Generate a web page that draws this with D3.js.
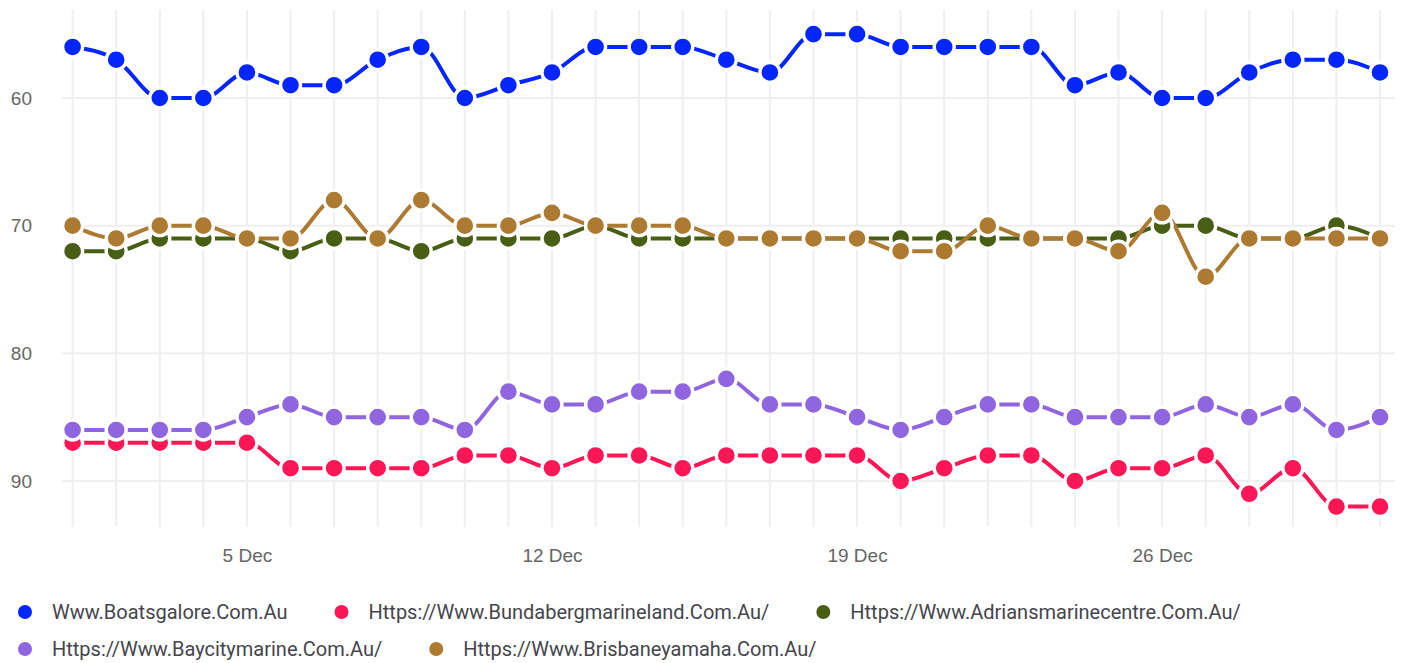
<!DOCTYPE html>
<html>
<head>
<meta charset="utf-8">
<script src="https://cdn.jsdelivr.net/npm/d3@7"></script>
<style>
  body { margin: 0; background: #fff; }
  svg { display: block; font-family: Roboto, "Open Sans", sans-serif; }
  .grid line { stroke: #efefef; stroke-width: 2; }
  .axis text { fill: #666; font-size: 19px; }
  .legend text { fill: #45454d; font-size: 20px; }
</style>
</head>
<body>
<svg id="chart" width="1403" height="663"></svg>
<script>
// days of December
const days = d3.range(1, 32)

const seriesNames = [
  'Www.Boatsgalore.Com.Au',
  'Https://Www.Bundabergmarineland.Com.Au/',
  'Https://Www.Adriansmarinecentre.Com.Au/',
  'Https://Www.Baycitymarine.Com.Au/',
  'Https://Www.Brisbaneyamaha.Com.Au/'
]

const seriesColors = ['#0326ff', '#ff1654', '#485e15', '#9066e0', '#ad7a32']

const boatsgalore = [56, 57, 60, 60, 58, 59, 59, 57, 56, 60, 59, 58, 56, 56, 56, 57, 58, 55, 55, 56, 56, 56, 56, 59, 58, 60, 60, 58, 57, 57, 58]
const bundaberg = [87, 87, 87, 87, 87, 89, 89, 89, 89, 88, 88, 89, 88, 88, 89, 88, 88, 88, 88, 90, 89, 88, 88, 90, 89, 89, 88, 91, 89, 92, 92]
const adrians = [72, 72, 71, 71, 71, 72, 71, 71, 72, 71, 71, 71, 70, 71, 71, 71, 71, 71, 71, 71, 71, 71, 71, 71, 71, 70, 70, 71, 71, 70, 71]
const baycity = [86, 86, 86, 86, 85, 84, 85, 85, 85, 86, 83, 84, 84, 83, 83, 82, 84, 84, 85, 86, 85, 84, 84, 85, 85, 85, 84, 85, 84, 86, 85]
const brisbane = [70, 71, 70, 70, 71, 71, 68, 71, 68, 70, 70, 69, 70, 70, 70, 71, 71, 71, 71, 72, 72, 70, 71, 71, 72, 69, 74, 71, 71, 71, 71]

const seriesValues = [boatsgalore, bundaberg, adrians, baycity, brisbane]

const yTicks = [60, 70, 80, 90]
const xTickDays = [5, 12, 19, 26]

const svg = d3.select('#chart')

const date = d => new Date(2023, 11, d)

const xScale = d3.scaleTime()
  .domain([date(1), date(31)])
  .range([72.6, 1380])

// rank axis, reversed: lower values on top
const yScale = d3.scaleLinear()
  .domain([60, 90])
  .range([98, 481])

const plotTop = 10
const plotBottom = 527

// vertical grid, one per day
svg.append('g')
  .attr('class', 'grid')
  .selectAll('line')
  .data(days)
  .join('line')
  .attr('x1', d => xScale(date(d)))
  .attr('x2', d => xScale(date(d)))
  .attr('y1', plotTop)
  .attr('y2', plotBottom)

// horizontal grid
svg.append('g')
  .attr('class', 'grid')
  .selectAll('line')
  .data(yTicks)
  .join('line')
  .attr('x1', 62)
  .attr('x2', 1395)
  .attr('y1', d => yScale(d))
  .attr('y2', d => yScale(d))

// y axis
let yAxis = svg.append('g')
  .attr('class', 'axis')
  .attr('transform', 'translate(32, 0)')
  .call(d3.axisLeft(yScale).tickValues(yTicks).tickSize(0).tickPadding(0))
yAxis.select('.domain').remove()

// x axis
let xAxis = svg.append('g')
  .attr('class', 'axis')
  .attr('transform', 'translate(0, 543)')
  .call(d3.axisBottom(xScale)
    .tickValues(xTickDays.map(date))
    .tickFormat(d3.timeFormat('%-d %b'))
    .tickSize(0)
    .tickPadding(6))
xAxis.select('.domain').remove()
svg.selectAll('.axis text').attr('font-family', null).attr('font-size', null)

const line = d3.line()
  .x((d, i) => xScale(date(days[i])))
  .y(d => yScale(d))
  .curve(d3.curveMonotoneX)

// Lines first, then markers on top
seriesValues.forEach((values, s) => {
  svg.append('path')
    .datum(values)
    .attr('fill', 'none')
    .attr('stroke', seriesColors[s])
    .attr('stroke-width', 4)
    .attr('d', line)
})

seriesValues.forEach((values, s) => {
  svg.append('g')
    .selectAll('circle')
    .data(values)
    .join('circle')
    .attr('cx', (d, i) => xScale(date(days[i])))
    .attr('cy', d => yScale(d))
    .attr('r', 10)
    .attr('fill', seriesColors[s])
    .attr('stroke', '#fff')
    .attr('stroke-width', 3.4)
})

// Legend, flowing in rows
let legend = svg.append('g').attr('class', 'legend')
let lx = 25
let ly = 612
seriesNames.forEach((name, s) => {
  let item = legend.append('g')
  let text = item.append('text')
    .attr('x', 27)
    .attr('dy', '0.35em')
    .text(name)
  let w = text.node().getComputedTextLength()
  if (lx + 27 + w > 1395) {
    lx = 25
    ly += 37
  }
  item.attr('transform', `translate(${lx}, ${ly})`)
  item.append('circle')
    .attr('r', 7)
    .attr('fill', seriesColors[s])
  lx += 27 + w + 54
})
</script>
</body>
</html>
